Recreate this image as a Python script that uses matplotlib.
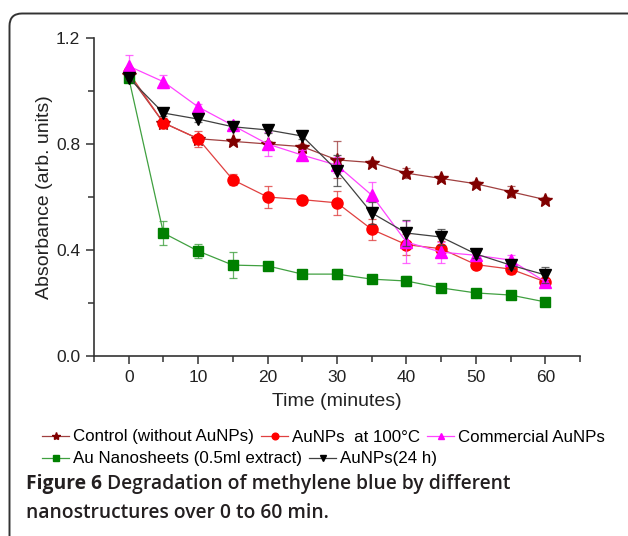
import matplotlib
matplotlib.use("Agg")
import matplotlib.pyplot as plt
from matplotlib.lines import Line2D
from matplotlib.patches import FancyBboxPatch
from matplotlib.ticker import MultipleLocator

# --- data ---
time_min = [0, 5, 10, 15, 20, 25, 30, 35, 40, 45, 50, 55, 60]

control = [1.06, 0.88, 0.82, 0.81, 0.80, 0.79, 0.74, 0.73, 0.69, 0.67, 0.65, 0.62, 0.59]
control_err = [0.01, 0.01, 0.01, 0.01, 0.01, 0.01, 0.07, 0.01, 0.02, 0.01, 0.01, 0.02, 0.01]

au_100 = [1.07, 0.88, 0.82, 0.665, 0.60, 0.59, 0.578, 0.478, 0.42, 0.405, 0.345, 0.328, 0.28]
au_100_err = [0.02, 0.02, 0.03, 0.02, 0.04, 0.015, 0.045, 0.04, 0.04, 0.03, 0.01, 0.02, 0.015]

commercial = [1.094, 1.035, 0.94, 0.87, 0.80, 0.758, 0.72, 0.607, 0.43, 0.392, 0.38, 0.362, 0.28]
commercial_err = [0.04, 0.025, 0.01, 0.01, 0.045, 0.02, 0.03, 0.05, 0.08, 0.04, 0.01, 0.02, 0.01]

nanosheets = [1.05, 0.464, 0.396, 0.343, 0.34, 0.309, 0.309, 0.29, 0.283, 0.257, 0.238, 0.23, 0.204]
nanosheets_err = [0.01, 0.045, 0.025, 0.05, 0.015, 0.01, 0.02, 0.015, 0.02, 0.01, 0.01, 0.01, 0.01]

au_24h = [1.05, 0.917, 0.894, 0.865, 0.853, 0.83, 0.70, 0.54, 0.464, 0.449, 0.385, 0.343, 0.306]
au_24h_err = [0.01, 0.01, 0.01, 0.01, 0.01, 0.01, 0.06, 0.04, 0.05, 0.03, 0.015, 0.015, 0.03]

labels = ["Control (without AuNPs)", "AuNPs  at 100\u00b0C", "Commercial AuNPs",
          "Au Nanosheets (0.5ml extract)", "AuNPs(24 h)"]

# (marker, marker colour, line colour, marker size)
styles = [
    ("*", "#800000", "#a04040", 10),
    ("o", "#ff0000", "#e04040", 8),
    ("^", "#ff00ff", "#ff44ff", 8),
    ("s", "#008000", "#40a040", 7),
    ("v", "#000000", "#404040", 8),
]
series = [(control, control_err), (au_100, au_100_err), (commercial, commercial_err),
          (nanosheets, nanosheets_err), (au_24h, au_24h_err)]

plt.rcParams["font.family"] = ["Liberation Sans", "DejaVu Sans"]

fig = plt.figure(figsize=(6.28, 5.36), dpi=100)
ax = fig.add_axes([94 / 628, 1 - 356 / 536, (580 - 94) / 628, (356 - 38) / 536])

# draw order: green and control first, black last on top
order = [3, 0, 1, 2, 4]
for i in order:
    y, err = series[i]
    m, mc, lc, ms = styles[i]
    ax.errorbar(time_min, y, yerr=err, fmt="none", ecolor=lc, elinewidth=0.9,
                capsize=3, capthick=0.9, alpha=0.8, zorder=2 + i)
    ax.plot(time_min, y, "-", color=lc, linewidth=0.9, zorder=2 + i)
    ax.plot(time_min, y, linestyle="none", marker=m, markersize=ms,
            markerfacecolor=mc, markeredgecolor=mc, zorder=3 + i)

ax.set_xlim(-5, 65)
ax.set_ylim(0, 1.2)
ax.xaxis.set_major_locator(MultipleLocator(10))
ax.xaxis.set_minor_locator(MultipleLocator(5))
ax.yaxis.set_major_locator(MultipleLocator(0.4))
ax.yaxis.set_minor_locator(MultipleLocator(0.2))
ax.yaxis.set_major_formatter(plt.FormatStrFormatter("%.1f"))
for side in ("top", "right"):
    ax.spines[side].set_visible(False)
for side in ("left", "bottom"):
    ax.spines[side].set_linewidth(1.2)
    ax.spines[side].set_color("#333333")
ax.tick_params(which="major", direction="out", length=6, width=1.1,
               labelsize=12.5, colors="#333333", labelcolor="#222222", pad=4)
ax.tick_params(which="minor", direction="out", length=4, width=1.1, colors="#333333")
ax.set_xlabel("Time (minutes)", fontsize=14, color="#222222", labelpad=6)
ax.set_ylabel("Absorbance (arb. units)", fontsize=14, color="#222222", labelpad=2)

# legend, two rows laid out like the original
handles = []
for m, mc, lc, ms in styles:
    handles.append(Line2D([], [], color=lc, linewidth=0.9, marker=m, markersize=ms * 0.6,
                          markerfacecolor=mc, markeredgecolor=mc))
leg_kw = dict(frameon=False, fontsize=12.2, handlelength=1.6, handletextpad=0.25,
              columnspacing=0.4, borderpad=0, borderaxespad=0)
fig.legend(handles[:3], labels[:3], ncol=3, loc="center left",
           bbox_to_anchor=(42 / 628, 1 - 437 / 536), **leg_kw)
fig.legend(handles[3:], labels[3:], ncol=2, loc="center left",
           bbox_to_anchor=(42 / 628, 1 - 459 / 536), **leg_kw)

# caption
cap_color = "#231f20"
cap_font = ["Open Sans", "DejaVu Sans"]
cap_size = 13.9
t1 = fig.text(26 / 628, 1 - 484 / 536, "Figure 6", fontsize=cap_size, fontweight="bold",
              family=cap_font, color=cap_color, va="center")
fig.canvas.draw()
bb = t1.get_window_extent()
fig.text((bb.x1 + 5) / 628, 1 - 484 / 536, "Degradation of methylene blue by different",
         fontsize=cap_size, fontweight="semibold", family=cap_font, color=cap_color,
         va="center")
fig.text(26 / 628, 1 - 513 / 536, "nanostructures over 0 to 60 min.", fontsize=cap_size,
         fontweight="semibold", family=cap_font, color=cap_color, va="center")

# rounded frame around the panel (open past the right and bottom edges)
frame = FancyBboxPatch((9.5 / 628, -0.05), 1.2, 1 - 13.5 / 536 + 0.05,
                       boxstyle="round,pad=0,rounding_size=0.02",
                       transform=fig.transFigure, fill=False,
                       edgecolor="#333333", linewidth=1.4, mutation_aspect=628 / 536)
fig.patches.append(frame)

fig.savefig("out.png", dpi=100)
